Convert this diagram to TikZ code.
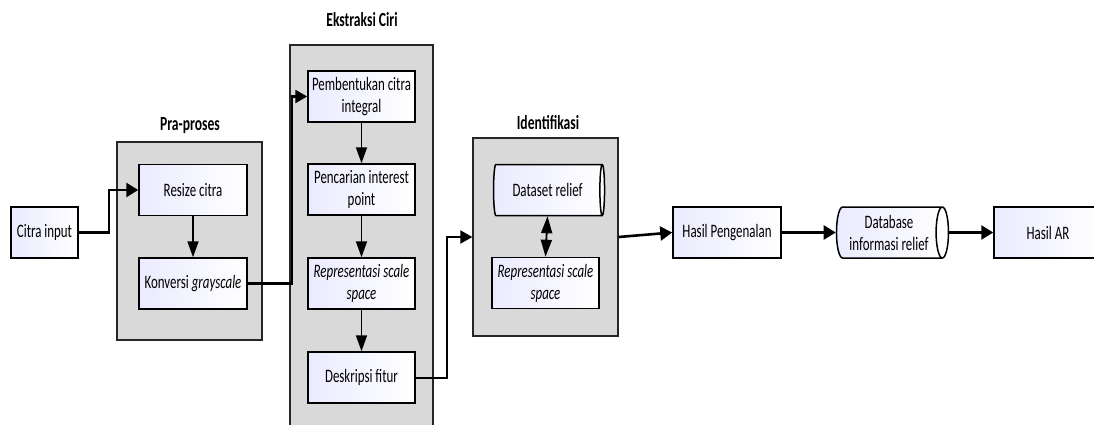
\documentclass[tikz,border=0pt]{standalone}
\usepackage{fontspec}
\setmainfont[FakeStretch=0.68]{Carlito}
\usetikzlibrary{arrows.meta,shapes.geometric}
\begin{document}
\begin{tikzpicture}[x=1pt,y=-1pt,
  txt/.style={font=\fontsize{19}{22}\selectfont},
  box/.style={txt,draw=black,line width=1.5pt,left color=blue!8!white,right color=white,
    minimum width=107pt,minimum height=51pt,inner sep=0pt,align=center},
  dbox/.style={txt,cylinder,draw=black,line width=1.5pt,aspect=0.35,left color=blue!8!white,right color=white,
    minimum height=111pt,minimum width=51pt,inner sep=0pt,align=center},
  grp/.style={draw=black!85,line width=1.3pt,fill=black!15,inner sep=0pt},
  ttl/.style={font=\fontsize{20}{22}\selectfont\bfseries},
  bigarrow/.style={line width=2.6pt,-{Triangle[length=12pt,width=14pt]}},
  smallarrow/.style={line width=1.8pt,-{Triangle[length=16pt,width=11pt]}},
  dblarrow/.style={line width=1.8pt,{Triangle[length=17pt,width=11pt]}-{Triangle[length=17pt,width=11pt]}}]
\useasboundingbox (0,0) rectangle (1094,425);
\clip (0,0) rectangle (1094,425);
\fill[white] (0,0) rectangle (1094,425);

% groups
\node[grp,minimum width=145pt,minimum height=198pt] (g1) at (189.5,241) {};
\node[grp,minimum width=143pt,minimum height=395pt] (g2) at (361.5,242.5) {};
\node[grp,minimum width=145pt,minimum height=198pt] (g3) at (545.5,237) {};
\node[ttl] (t1) at (190,126) {Pra-proses};
\node[ttl] (t2) at (362,20) {Ekstraksi Ciri};
\node[ttl] (t3) at (548,123) {Identifikasi};

% nodes
\node[box,minimum width=67pt] (cin) at (44.5,232.5) {Citra input};
\node[box,minimum width=108pt] (resize) at (193,190) {Resize citra};
\node[box,minimum width=108pt] (konv) at (193,283.5) {Konversi \textit{grayscale}};
\node[box] (pemb) at (361.5,96.5) {Pembentukan citra\\integral};
\node[box] (penc) at (361.5,189.5) {Pencarian interest\\point};
\node[box] (repr1) at (361.5,283.5) {\itshape Representasi scale\\\itshape space};
\node[box] (desk) at (361.5,377.5) {Deskripsi fitur};
\node[dbox] (dset) at (547.5,190) {Dataset relief};
\node[box] (repr2) at (545.5,283) {\itshape Representasi scale\\\itshape space};
\node[box,minimum width=108pt] (hasil) at (727,232.5) {Hasil Pengenalan};
\node[dbox,minimum height=112pt] (dbinfo) at (889,232.5) {Database\\informasi relief};
\node[box,minimum width=108pt] (ar) at (1048,232.5) {Hasil AR};

% helper coordinates
\coordinate (c1) at (109,0);
\coordinate (c2) at (292,0);
\coordinate (c3) at (447,0);

% connectors
\draw[bigarrow] (cin.east) -- (cin.east -| c1) |- (resize.west);
\draw[smallarrow] (resize.south) -- (konv.north);
\draw[line width=2.4pt,-{Triangle[length=12pt,width=13pt]}] (konv.east) -- (konv.east -| c2) |- (pemb.west);
\draw[smallarrow] (pemb.south) -- (penc.north);
\draw[smallarrow] (penc.south) -- (repr1.north);
\draw[smallarrow] (repr1.south) -- (desk.north);
\draw[line width=2pt,-{Triangle[length=12pt,width=13pt]}] (desk.east) -- (desk.east -| c3) |- (g3.west);
\draw[dblarrow] (dset.south) -- (repr2.north);
\draw[bigarrow] (g3.east) -- (hasil.west);
\draw[bigarrow] (hasil.east) -- (dbinfo.west);
\draw[bigarrow] (dbinfo.east) -- (ar.west);
\end{tikzpicture}
\end{document}
